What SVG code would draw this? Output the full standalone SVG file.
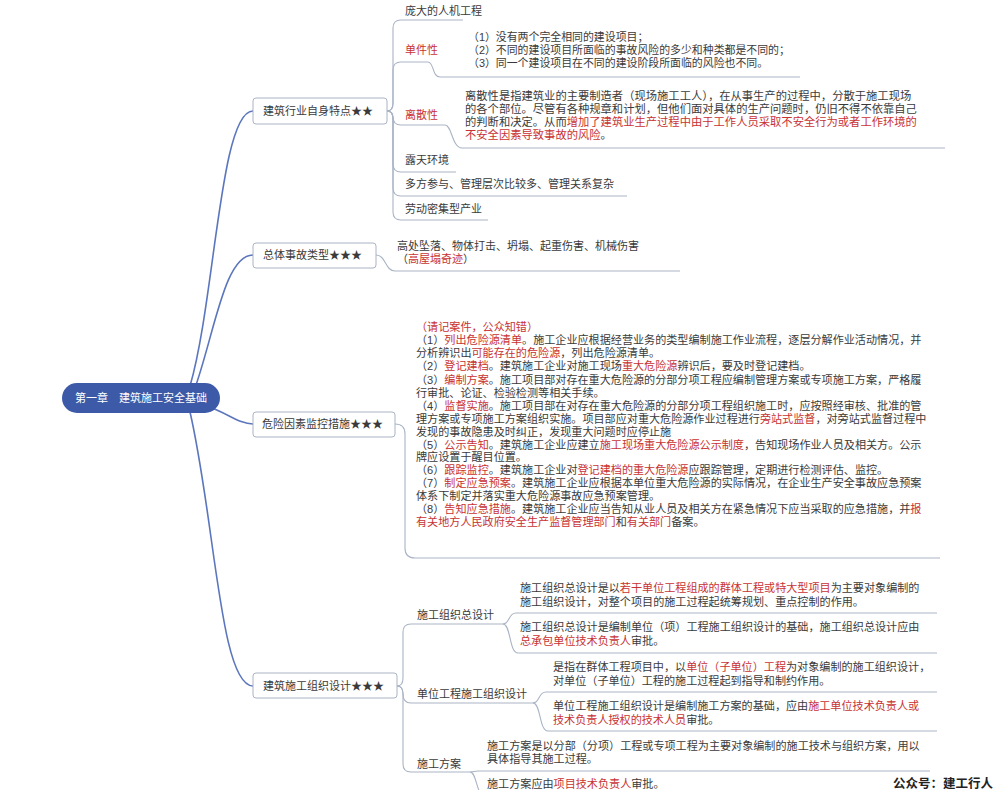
<svg xmlns="http://www.w3.org/2000/svg" width="1000" height="790" viewBox="0 0 1000 790">
<style>
text{font-family:"Liberation Sans","Noto Sans CJK SC",sans-serif;fill:#3a3a3a;font-size:11px}
.r{fill:#c83232}
.box{fill:#fff;stroke:#a9b3c4;stroke-width:1}
.main{fill:none;stroke:#5b76bd;stroke-width:1.6}
.sub{fill:none;stroke:#a9b4c5;stroke-width:1.1}
.root{fill:#fff;font-size:11px}
.wm{font-weight:bold;font-size:12.5px;fill:#222}
.b{font-size:11.1px}
</style>
<rect width="1000" height="790" fill="#fff"/>
<g id="connectors">
<path class="main" d="M190,386 C215,300 220,111 253,111"/>
<path class="main" d="M196,385 C215,330 225,255 253,255"/>
<path class="main" d="M210,407 C230,415 240,424 253,424"/>
<path class="main" d="M190,412 C215,520 220,686 253,686"/>
<path class="sub" d="M387,111 Q393,111 393,103 L393,28 Q393,20 401,20 L463,20"/>
<path class="sub" d="M387,111 Q393,111 393,103 L393,70 Q393,62 401,62 L428,62 C434,62 432,77 440,77 L800,77"/>
<path class="sub" d="M387,111 Q393,111 393,117 Q393,125 401,125 L445,125 C452,125 452,148 462,148 L945,148"/>
<path class="sub" d="M387,111 Q393,111 393,119 L393,164 Q393,172 401,172 L456,172"/>
<path class="sub" d="M387,111 Q393,111 393,119 L393,188 Q393,196 401,196 L627,196"/>
<path class="sub" d="M387,111 Q393,111 393,119 L393,212 Q393,220 401,220 L488,220"/>
<path class="sub" d="M376,255 C386,255 385,271 395,271 L680,271"/>
<path class="sub" d="M395,424 Q405,424 405,434 L405,548 Q405,558 415,558 L940,558"/>
<path class="sub" d="M397,686 Q403,686 403,678 L403,632 Q403,624 411,624 L503,624"/>
<path class="sub" d="M397,686 Q403,686 403,694 Q403,703 411,703 L533,703"/>
<path class="sub" d="M397,686 Q403,686 403,694 L403,764 Q403,772 411,772 L470,772"/>
<path class="sub" d="M503,624 C510,624 508,613 516,613 L937,613"/>
<path class="sub" d="M503,624 C511,624 509,653 518,653 L937,653"/>
<path class="sub" d="M533,703 C540,703 538,692 546,692 L937,692"/>
<path class="sub" d="M533,703 C541,703 539,731 548,731 L937,731"/>
<path class="sub" d="M470,772 C474,772 474,771 478,771 L930,771"/>
<path class="sub" d="M470,772 C477,772 476,795 484,795 L930,795"/>
</g>
<g id="root">
<rect x="62" y="383" width="158" height="30" rx="15" fill="#3c5aa8"/>
<text class="root" x="141" y="402" text-anchor="middle">第一章　建筑施工安全基础</text>
</g>
<g id="n1">
<rect class="box" x="253" y="98" width="134" height="26" rx="3"/>
<text x="263" y="115">建筑行业自身特点★★</text>
</g>
<g id="n1a"><text x="405" y="15">庞大的人机工程</text></g>
<g id="n1b">
<text class="r" x="405" y="54">单件性</text>
<text style="font-size:10.9px"><tspan x="468" y="41">（1）没有两个完全相同的建设项目；</tspan><tspan x="468" y="54">（2）不同的建设项目所面临的事故风险的多少和种类都是不同的；</tspan><tspan x="468" y="67">（3）同一个建设项目在不同的建设阶段所面临的风险也不同。</tspan></text>
</g>
<g id="n1c">
<text class="r" x="405" y="119">离散性</text>
<text style="font-size:11.3px"><tspan x="465" y="100">离散性是指建筑业的主要制造者（现场施工工人），在从事生产的过程中，分散于施工现场</tspan><tspan x="465" y="113">的各个部位。尽管有各种规章和计划，但他们面对具体的生产问题时，仍旧不得不依靠自己</tspan><tspan x="465" y="126">的判断和决定。从而</tspan><tspan class="r">增加了建筑业生产过程中由于工作人员采取不安全行为或者工作环境的</tspan><tspan class="r" x="465" y="139">不安全因素导致事故的风险</tspan><tspan>。</tspan></text>
</g>
<g id="n1d"><text x="405" y="164">露天环境</text></g>
<g id="n1e"><text x="405" y="188">多方参与、管理层次比较多、管理关系复杂</text></g>
<g id="n1f"><text x="405" y="213">劳动密集型产业</text></g>
<g id="n2">
<rect class="box" x="253" y="243" width="123" height="25" rx="3"/>
<text x="263" y="259">总体事故类型★★★</text>
</g>
<g id="n2a">
<text><tspan x="397" y="250">高处坠落、物体打击、坍塌、起重伤害、机械伤害</tspan><tspan x="397" y="263">（</tspan><tspan class="r">高屋塌奇迹</tspan><tspan>）</tspan></text>
</g>
<g id="n3">
<rect class="box" x="253" y="412" width="142" height="25" rx="3"/>
<text x="262" y="428">危险因素监控措施★★★</text>
</g>
<g id="n3a">
<text class="b"><tspan class="r" x="416" y="331">（请记案件，公众知错）</tspan><tspan x="416" y="344">（1）</tspan><tspan class="r">列出危险源清单</tspan><tspan>。施工企业应根据经营业务的类型编制施工作业流程，逐层分解作业活动情况，并</tspan><tspan x="416" y="357">分析辨识出</tspan><tspan class="r">可能存在的危险源</tspan><tspan>，列出危险源清单。</tspan><tspan x="416" y="370">（2）</tspan><tspan class="r">登记建档</tspan><tspan>。建筑施工企业对施工现场</tspan><tspan class="r">重大危险源</tspan><tspan>辨识后，要及时登记建档。</tspan><tspan x="416" y="384">（3）</tspan><tspan class="r">编制方案</tspan><tspan>。施工项目部对存在重大危险源的分部分项工程应编制管理方案或专项施工方案，严格履</tspan><tspan x="416" y="397">行审批、论证、检验检测等相关手续。</tspan><tspan x="416" y="410">（4）</tspan><tspan class="r">监督实施</tspan><tspan>。施工项目部在对存在重大危险源的分部分项工程组织施工时，应按照经审核、批准的管</tspan><tspan x="416" y="423">理方案或专项施工方案组织实施。项目部应对重大危险源作业过程进行</tspan><tspan class="r">旁站式监督</tspan><tspan>，对旁站式监督过程中</tspan><tspan x="416" y="436">发现的事故隐患及时纠正，发现重大问题时应停止施</tspan><tspan x="416" y="449">（5）</tspan><tspan class="r">公示告知</tspan><tspan>。建筑施工企业应建立</tspan><tspan class="r">施工现场重大危险源公示制度</tspan><tspan>，告知现场作业人员及相关方。公示</tspan><tspan x="416" y="461">牌应设置于醒目位置。</tspan><tspan x="416" y="474">（6）</tspan><tspan class="r">跟踪监控</tspan><tspan>。建筑施工企业对</tspan><tspan class="r">登记建档的重大危险源</tspan><tspan>应跟踪管理，定期进行检测评估、监控。</tspan><tspan x="416" y="487">（7）</tspan><tspan class="r">制定应急预案</tspan><tspan>。建筑施工企业应根据本单位重大危险源的实际情况，在企业生产安全事故应急预案</tspan><tspan x="416" y="500">体系下制定并落实重大危险源事故应急预案管理。</tspan><tspan x="416" y="513">（8）</tspan><tspan class="r">告知应急措施</tspan><tspan>。建筑施工企业应当告知从业人员及相关方在紧急情况下应当采取的应急措施，并</tspan><tspan class="r">报</tspan><tspan class="r" x="416" y="526">有关地方人民政府安全生产监督管理部门</tspan><tspan>和</tspan><tspan class="r">有关部门</tspan><tspan>备案。</tspan></text>
</g>
<g id="n4">
<rect class="box" x="253" y="673" width="144" height="25" rx="3"/>
<text x="263" y="690">建筑施工组织设计★★★</text>
</g>
<g id="n4a">
<text x="417" y="619">施工组织总设计</text>
<text class="b"><tspan x="520" y="592">施工组织总设计是以</tspan><tspan class="r">若干单位工程组成的群体工程或特大型项目</tspan><tspan>为主要对象编制的</tspan><tspan x="520" y="606">施工组织设计，对整个项目的施工过程起统筹规划、重点控制的作用。</tspan></text>
<text class="b"><tspan x="520" y="631">施工组织总设计是编制单位（项）工程施工组织设计的基础，施工组织总设计应由</tspan><tspan class="r" x="520" y="645">总承包单位技术负责人</tspan><tspan>审批。</tspan></text>
</g>
<g id="n4b">
<text x="417" y="698">单位工程施工组织设计</text>
<text class="b"><tspan x="553" y="671">是指在群体工程项目中，以</tspan><tspan class="r">单位（子单位）工程</tspan><tspan>为对象编制的施工组织设计，</tspan><tspan x="553" y="685">对单位（子单位）工程的施工过程起到指导和制约作用。</tspan></text>
<text class="b"><tspan x="553" y="710">单位工程施工组织设计是编制施工方案的基础，应由</tspan><tspan class="r">施工单位技术负责人或</tspan><tspan class="r" x="553" y="724">技术负责人授权的技术人员</tspan><tspan>审批。</tspan></text>
</g>
<g id="n4c">
<text x="417" y="768">施工方案</text>
<text class="b"><tspan x="487" y="750">施工方案是以分部（分项）工程或专项工程为主要对象编制的施工技术与组织方案，用以</tspan><tspan x="487" y="763">具体指导其施工过程。</tspan></text>
<text class="b" x="487" y="788">施工方案应由<tspan class="r">项目技术负责人</tspan>审批。</text>
</g>
<g id="watermark"><text class="wm" x="893" y="788">公众号：建工行人</text></g>
</svg>
